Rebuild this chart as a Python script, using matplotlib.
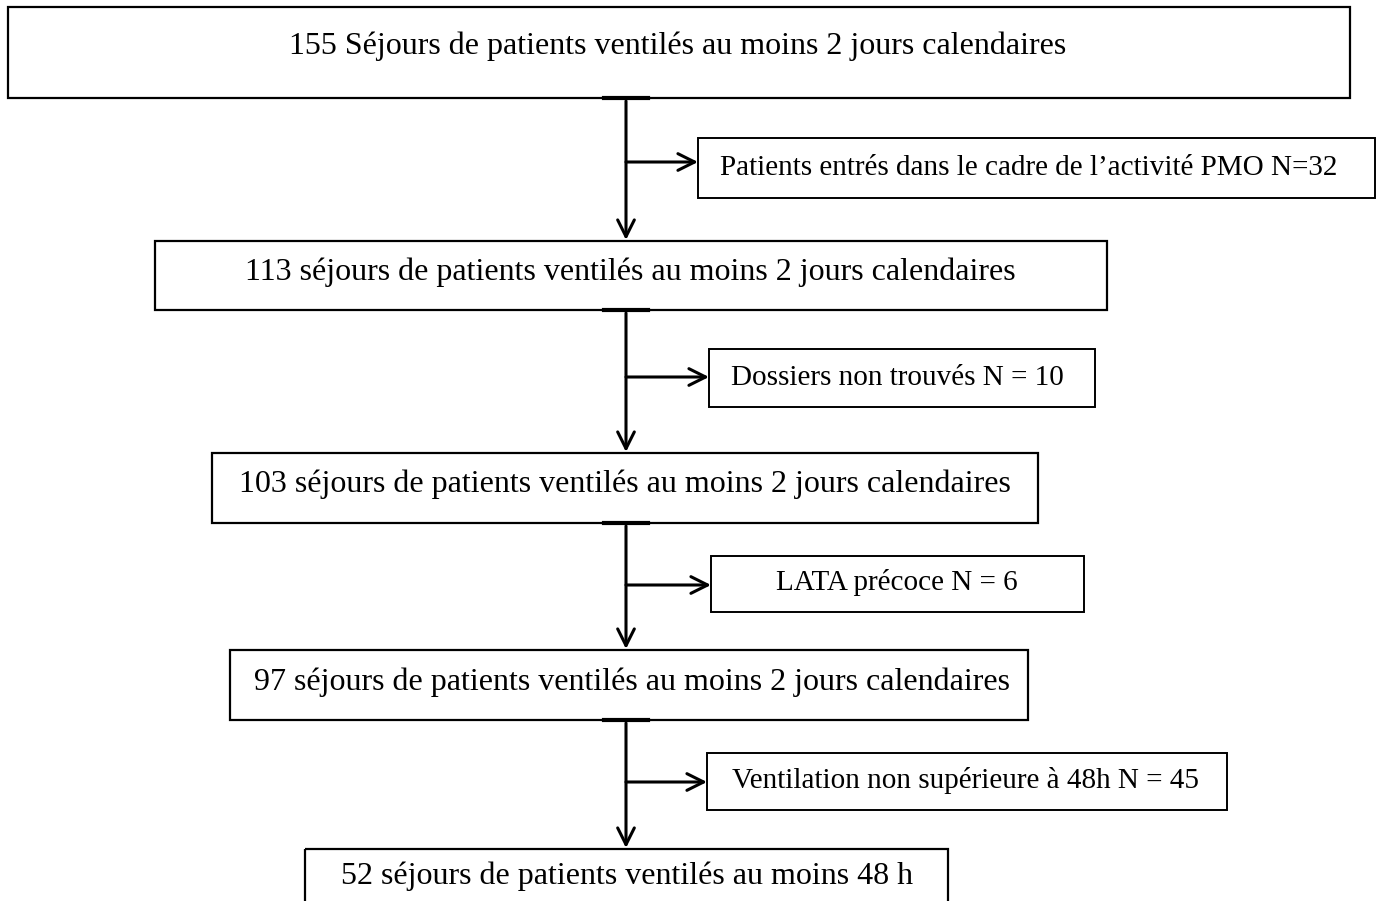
import matplotlib
matplotlib.use('Agg')
import matplotlib.pyplot as plt
from matplotlib.patches import Rectangle

# flowchart text
main_labels = [
    '155 Séjours de patients ventilés au moins 2 jours calendaires',
    '113 séjours de patients ventilés au moins 2 jours calendaires',
    '103 séjours de patients ventilés au moins 2 jours calendaires',
    '97 séjours de patients ventilés au moins 2 jours calendaires',
    '52 séjours de patients ventilés au moins 48 h',
]
side_labels = [
    'Patients entrés dans le cadre de l\u2019activité PMO N=32',
    'Dossiers non trouvés N = 10',
    'LATA précoce N = 6',
    'Ventilation non supérieure à 48h N = 45',
]

# geometry in pixels (x0, x1, y0, y1), y downwards
main_boxes = [(8, 1350, 7, 98), (155, 1107, 241, 310), (212, 1038, 453, 523),
              (230, 1028, 650, 720), (305, 948, 849, 915)]
main_text_xy = [(678, 46), (630, 272), (625, 484), (632, 682), (627, 876)]
side_boxes = [(698, 1375, 138, 198), (709, 1095, 349, 407), (711, 1084, 556, 612),
              (707, 1227, 753, 810)]
side_text_xy = [(1029, 168), (897, 378), (897, 583), (966, 781)]
arrow_y = [162, 377, 585, 782]
stem_x = 626

W, H = 1381, 901
fig = plt.figure(figsize=(W / 100, H / 100), dpi=100)
ax = fig.add_axes([0, 0, 1, 1])
ax.set_xlim(0, W)
ax.set_ylim(H, 0)
ax.axis('off')

font = 'Liberation Serif'

for (x0, x1, y0, y1), lab, (tx, ty) in zip(main_boxes, main_labels, main_text_xy):
    ax.add_patch(Rectangle((x0, y0), x1 - x0, y1 - y0, fill=False, lw=1.6, ec='black'))
    ax.text(tx, ty, lab, ha='center', va='center', fontsize=23, family=font)

for (x0, x1, y0, y1), lab, (tx, ty) in zip(side_boxes, side_labels, side_text_xy):
    ax.add_patch(Rectangle((x0, y0), x1 - x0, y1 - y0, fill=False, lw=1.4, ec='black'))
    ax.text(tx, ty, lab, ha='center', va='center', fontsize=21, family=font)

# connectors
for i in range(4):
    top = main_boxes[i][3]
    nxt = main_boxes[i + 1][2]
    # little thick bit on the box border where the line leaves
    ax.plot([stem_x - 22, stem_x + 22], [top, top], color='black', lw=3)
    ax.annotate('', xy=(stem_x, nxt - 1), xytext=(stem_x, top + 3),
                arrowprops=dict(arrowstyle='->', lw=2.2, color='black',
                                mutation_scale=30, shrinkA=0, shrinkB=0))
    ax.annotate('', xy=(side_boxes[i][0], arrow_y[i]), xytext=(stem_x, arrow_y[i]),
                arrowprops=dict(arrowstyle='->', lw=2.2, color='black',
                                mutation_scale=30, shrinkA=0, shrinkB=0))

fig.savefig('out.png', dpi=100)
